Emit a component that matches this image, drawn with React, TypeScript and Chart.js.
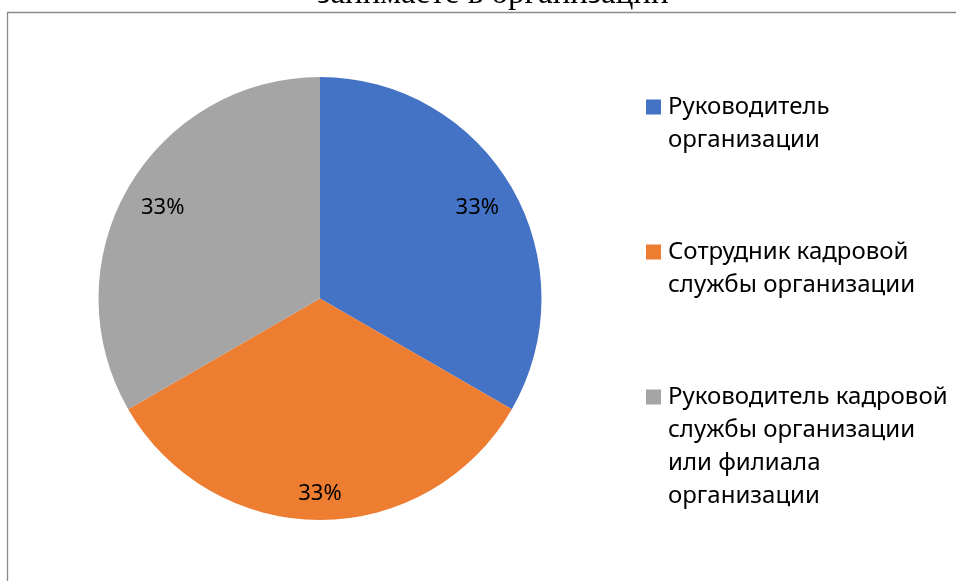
import React, { useEffect, useRef } from "react";
import { Chart, registerables } from "chart.js";

Chart.register(...registerables);

const TITLE_LINE = "занимаете в организации";
const CATEGORIES = [
  "Руководитель\nорганизации",
  "Сотрудник кадровой\nслужбы организации",
  "Руководитель кадровой\nслужбы организации\nили филиала\nорганизации",
];
const VALUES = [1, 1, 1];
const COLORS = ["#4472C4", "#ED7D31", "#A5A5A5"];
const LABEL_RADIUS = [0.82, 0.88, 0.82];

const W = 956;
const H = 581;
const SANS = '"Noto Sans", "Open Sans", sans-serif';

const framePlugin = {
  id: "frame",
  beforeDraw(chart: any) {
    const ctx = chart.ctx;
    ctx.save();
    ctx.fillStyle = "#ffffff";
    ctx.fillRect(0, 0, W, H);
    ctx.strokeStyle = "#8a8a8a";
    ctx.lineWidth = 1.3;
    ctx.beginPath();
    ctx.moveTo(7.5, H + 5);
    ctx.lineTo(7.5, 12.5);
    ctx.lineTo(W + 5, 12.5);
    ctx.stroke();
    ctx.fillStyle = "#000000";
    ctx.font = '33px "Liberation Serif", "Times New Roman", serif';
    ctx.textAlign = "center";
    ctx.textBaseline = "alphabetic";
    ctx.fillText(TITLE_LINE, 493, 3);
    ctx.restore();
  },
};

const labelsPlugin = {
  id: "sliceLabels",
  afterDatasetsDraw(chart: any) {
    const ctx = chart.ctx;
    const meta = chart.getDatasetMeta(0);
    const data = chart.data.datasets[0].data as number[];
    const total = data.reduce((a, b) => a + b, 0);
    ctx.save();
    ctx.fillStyle = "#000000";
    ctx.font = `22px ${SANS}`;
    ctx.textAlign = "center";
    ctx.textBaseline = "middle";
    meta.data.forEach((arc: any, i: number) => {
      const p = arc.getProps(["x", "y", "startAngle", "endAngle", "outerRadius"], true);
      const mid = (p.startAngle + p.endAngle) / 2;
      const r = p.outerRadius * LABEL_RADIUS[i];
      const pct = Math.round((data[i] / total) * 100) + "%";
      ctx.fillText(pct, p.x + Math.cos(mid) * r, p.y + Math.sin(mid) * r);
    });
    ctx.restore();
  },
};

const legendPlugin = {
  id: "sideLegend",
  afterDraw(chart: any) {
    const ctx = chart.ctx;
    const labels = chart.data.labels as string[];
    const colors = chart.data.datasets[0].backgroundColor as string[];
    const x0 = 646;
    const box = 15;
    const textX = 668;
    const firstCenter = 107;
    const itemGap = 145;
    const lineH = 33;
    ctx.save();
    ctx.font = `24px ${SANS}`;
    ctx.textAlign = "left";
    ctx.textBaseline = "middle";
    labels.forEach((lab, i) => {
      const cy = firstCenter + i * itemGap;
      ctx.fillStyle = colors[i];
      ctx.fillRect(x0, cy - box / 2, box, box);
      ctx.fillStyle = "#000000";
      lab.split("\n").forEach((line, j) => {
        ctx.fillText(line, textX, cy + j * lineH);
      });
    });
    ctx.restore();
  },
};

export default function App() {
  const ref = useRef<HTMLCanvasElement | null>(null);
  useEffect(() => {
    if (!ref.current) return;
    const chart = new Chart(ref.current, {
      type: "pie",
      data: {
        labels: CATEGORIES,
        datasets: [
          {
            data: VALUES,
            backgroundColor: COLORS,
            borderWidth: 0,
          },
        ],
      },
      options: {
        responsive: false,
        animation: false,
        events: [],
        layout: { padding: { left: 98, top: 77, right: 414, bottom: 61 } },
        plugins: {
          legend: { display: false },
          tooltip: { enabled: false },
          title: { display: false },
        },
      },
      plugins: [framePlugin, labelsPlugin, legendPlugin],
    });
    return () => chart.destroy();
  }, []);
  return (
    <div style={{ position: "absolute", left: 0, top: 0, width: W, height: H, background: "#fff" }}>
      <canvas ref={ref} width={W} height={H} style={{ display: "block" }} />
    </div>
  );
}
